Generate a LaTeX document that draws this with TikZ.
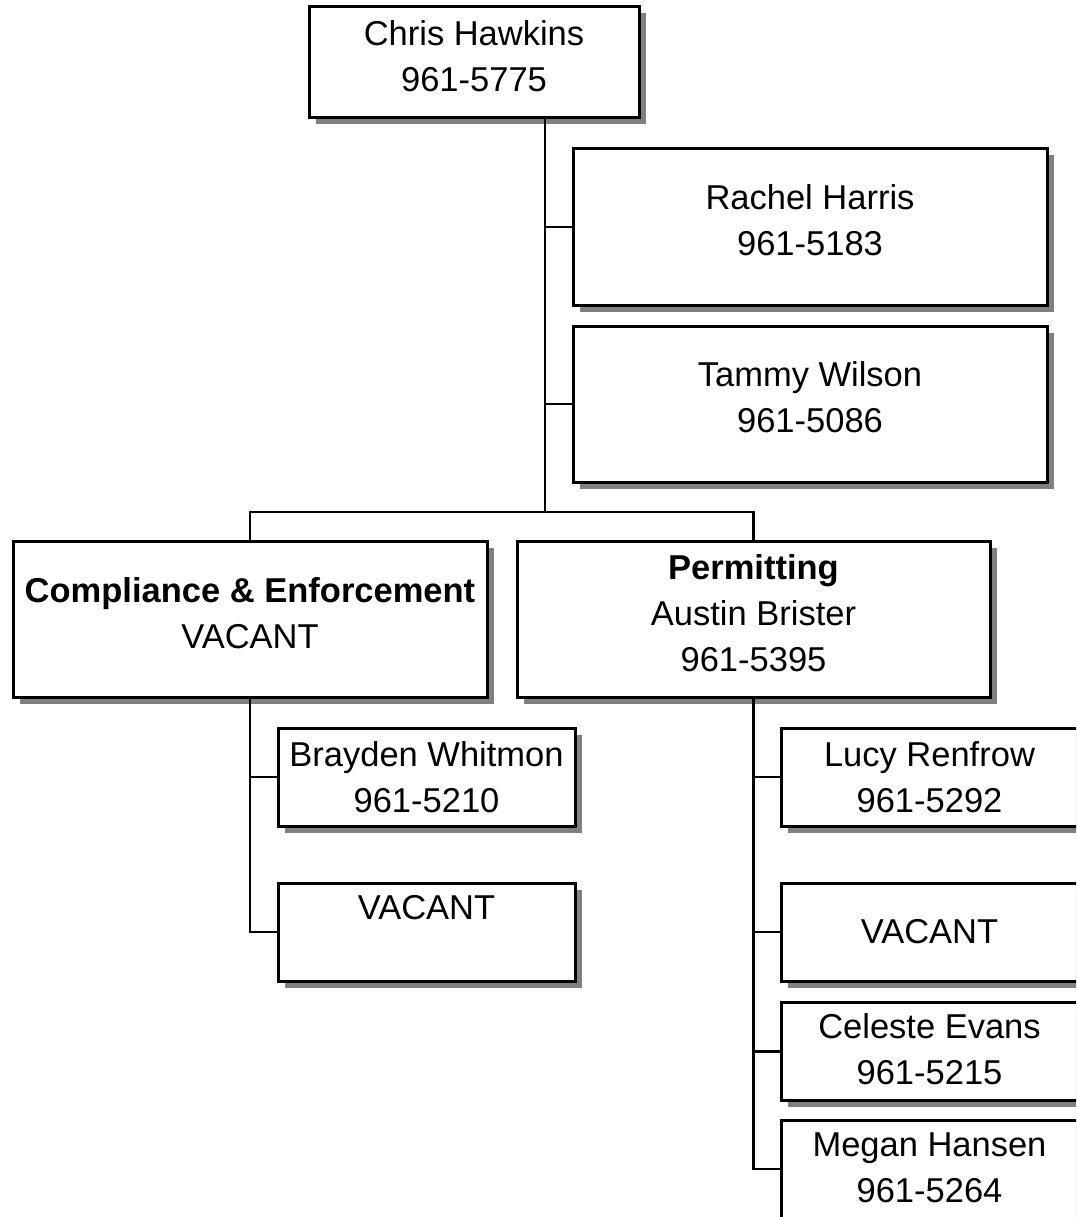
\documentclass[tikz,border=0pt]{standalone}
\usepackage{fontspec}
\setmainfont{Liberation Sans}
\usetikzlibrary{shadows}
\definecolor{shadowgray}{HTML}{808080}
\begin{document}
\begin{tikzpicture}[x=1pt,y=-1pt,
  box/.style={draw=black, line width=3pt, fill=white, rectangle, inner sep=0pt, outer sep=0pt,
    general shadow={fill=shadowgray, shadow xshift=6.5pt, shadow yshift=-6.5pt}},
  bigbox/.style={box, minimum width=474pt, minimum height=156pt},
  smallbox/.style={box, minimum width=297pt, minimum height=98pt},
  txt/.style={align=center, inner sep=0pt, font=\fontsize{34.5}{46}\selectfont},
  link/.style={line width=2.5pt}]
\useasboundingbox (0,0) rectangle (1076,1217);
\clip (0,0) rectangle (1076,1217);
\fill[white] (0,0) rectangle (1076,1217);

% boxes
\node[box, minimum width=330pt, minimum height=111pt] (chris) at (474,62.5) {};
\node[bigbox] (rachel) at (810,227) {};
\node[bigbox] (tammy) at (810,404) {};
\node[bigbox] (comp) at (250,619) {};
\node[bigbox, minimum width=473pt] (perm) at (753.5,619) {};
\node[smallbox] (bray) at (426.5,777) {};
\node[smallbox] (vacl) at (426.5,932) {};
\node[smallbox] (lucy) at (929.5,777) {};
\node[smallbox] (vacr) at (929.5,932) {};
\node[smallbox] (celeste) at (929.5,1051.5) {};
\node[smallbox] (megan) at (929.5,1169) {};

% texts
\node[txt] (chrisT) at ([yshift=6pt]chris.center) {Chris Hawkins\\961-5775};
\node[txt] (rachelT) at ([yshift=7pt]rachel.center) {Rachel Harris\\961-5183};
\node[txt] (tammyT) at ([yshift=7pt]tammy.center) {Tammy Wilson\\961-5086};
\node[txt] (compT) at ([yshift=5.5pt]comp.center) {\textbf{Compliance \& Enforcement}\\VACANT};
\node[txt] (permT) at ([yshift=6pt]perm.center) {\textbf{Permitting}\\Austin Brister\\961-5395};
\node[txt] (brayT) at (bray.center) {Brayden Whitmon\\961-5210};
\node[txt] (vaclT) at ([yshift=24pt]vacl.center) {VACANT};
\node[txt] (lucyT) at (lucy.center) {Lucy Renfrow\\961-5292};
\node[txt] (vacrT) at (vacr.center) {VACANT};
\node[txt] (celesteT) at ([yshift=2pt]celeste.center) {Celeste Evans\\961-5215};
\node[txt] (meganT) at ([yshift=1.5pt]megan.center) {Megan Hansen\\961-5264};

% connectors
\coordinate (trunk) at (545,512);
\draw[link] (trunk |- chris.south) -- (trunk);
\draw[link] (trunk |- rachel.west) -- (rachel.west);
\draw[link] (trunk |- tammy.west) -- (tammy.west);
\draw[link] (comp.north) -- (comp.north |- trunk) -- (perm.north |- trunk) -- (perm.north);
\draw[link] (comp.south) -- (comp.south |- vacl.west) -- (vacl.west);
\draw[link] (comp.south |- bray.west) -- (bray.west);
\draw[link] (perm.south) -- (perm.south |- megan.west) -- (megan.west);
\draw[link] (perm.south |- lucy.west) -- (lucy.west);
\draw[link] (perm.south |- vacr.west) -- (vacr.west);
\draw[link] (perm.south |- celeste.west) -- (celeste.west);
\end{tikzpicture}
\end{document}
